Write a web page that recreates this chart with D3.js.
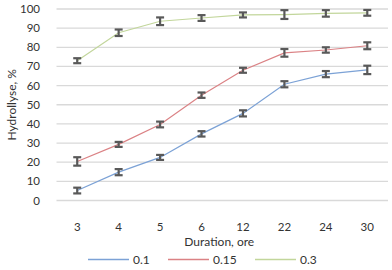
<!DOCTYPE html>
<html>
<head>
<meta charset="utf-8">
<script src="https://cdn.jsdelivr.net/npm/d3@7"></script>
<style>
  html, body { margin: 0; padding: 0; background: #fff; }
  svg { display: block; font-family: Lato, "Open Sans", sans-serif; }
</style>
</head>
<body>
<svg id="chart" width="392" height="270"></svg>
<script>
const categories = ["3", "4", "5", "6", "12", "22", "24", "30"];
const seriesNames = ["0.1", "0.15", "0.3"];
const values01  = [5.2, 14.8, 22.5, 34.8, 45.5, 60.7, 66.0, 68.2];
const values015 = [20.4, 29.3, 39.7, 55.0, 68.0, 77.1, 78.6, 80.8];
const values03  = [73.0, 87.6, 93.6, 95.3, 96.9, 97.1, 97.7, 98.0];
const errors01  = [1.5, 1.6, 1.3, 1.4, 1.6, 1.6, 1.6, 2.2];
const errors015 = [2.2, 1.3, 1.5, 1.4, 1.3, 2.0, 1.4, 1.8];
const errors03  = [1.3, 1.7, 2.0, 1.5, 1.3, 2.3, 1.7, 1.5];
const yTicks = [0, 10, 20, 30, 40, 50, 60, 70, 80, 90, 100];
const colors = ["#7CA2D6", "#DB8285", "#C2D69B"];

const series = [
  { name: seriesNames[0], values: values01, errors: errors01, color: colors[0] },
  { name: seriesNames[1], values: values015, errors: errors015, color: colors[1] },
  { name: seriesNames[2], values: values03, errors: errors03, color: colors[2] }
];

const svg = d3.select("#chart");
const mLeft = 56.5, mRight = 388, mTop = 9, mBottom = 200.5;

const x = d3.scalePoint().domain(categories).range([mLeft, mRight]).padding(0.5);
const y = d3.scaleLinear().domain([0, 100]).range([mBottom, mTop]);

// gridlines
svg.append("g").selectAll("line").data(yTicks).join("line")
  .attr("x1", mLeft).attr("x2", mRight)
  .attr("y1", d => y(d)).attr("y2", d => y(d))
  .attr("stroke", "#D9D9D9").attr("stroke-width", 1.3);

// y tick labels
svg.append("g").selectAll("text").data(yTicks).join("text")
  .attr("x", 40).attr("y", d => y(d)).attr("dy", "0.35em")
  .attr("text-anchor", "end").attr("font-size", 11.5).attr("fill", "#333")
  .text(d => d);

// x tick labels
svg.append("g").selectAll("text").data(categories).join("text")
  .attr("x", d => x(d)).attr("y", 226.5).attr("dy", "0.35em")
  .attr("text-anchor", "middle").attr("font-size", 11.5).attr("fill", "#333")
  .text(d => d);

// axis titles
svg.append("text").attr("x", (mLeft + mRight) / 2 - 3).attr("y", 242).attr("dy", "0.35em")
  .attr("text-anchor", "middle").attr("font-size", 12).attr("fill", "#333")
  .text("Duration, ore");
svg.append("text").attr("transform", `translate(12,${(mTop + mBottom) / 2}) rotate(-90)`)
  .attr("dy", "0.35em").attr("text-anchor", "middle").attr("font-size", 12).attr("fill", "#333")
  .text("Hydrollyse, %");

// lines
const line = d3.line().x((d, i) => x(categories[i])).y(d => y(d));
series.forEach(s => {
  svg.append("path").datum(s.values)
    .attr("fill", "none").attr("stroke", s.color).attr("stroke-width", 1.2)
    .attr("d", line);
});

// error bars
series.forEach(s => {
  const g = svg.append("g").attr("stroke", "#595959").attr("stroke-width", 2.2);
  s.values.forEach((v, i) => {
    const cx = x(categories[i]);
    const y1 = y(v + s.errors[i]), y2 = y(v - s.errors[i]);
    g.append("line").attr("x1", cx).attr("x2", cx).attr("y1", y1).attr("y2", y2);
    g.append("line").attr("x1", cx - 4).attr("x2", cx + 4).attr("y1", y1).attr("y2", y1);
    g.append("line").attr("x1", cx - 4).attr("x2", cx + 4).attr("y1", y2).attr("y2", y2);
  });
});

// legend
const legendX = [88, 168, 255];
series.forEach((s, i) => {
  svg.append("line").attr("x1", legendX[i]).attr("x2", legendX[i] + 41)
    .attr("y1", 259.5).attr("y2", 259.5).attr("stroke", s.color).attr("stroke-width", 1.5);
  svg.append("text").attr("x", legendX[i] + 45).attr("y", 260).attr("dy", "0.35em")
    .attr("font-size", 12).attr("fill", "#333").text(s.name);
});
</script>
</body>
</html>
